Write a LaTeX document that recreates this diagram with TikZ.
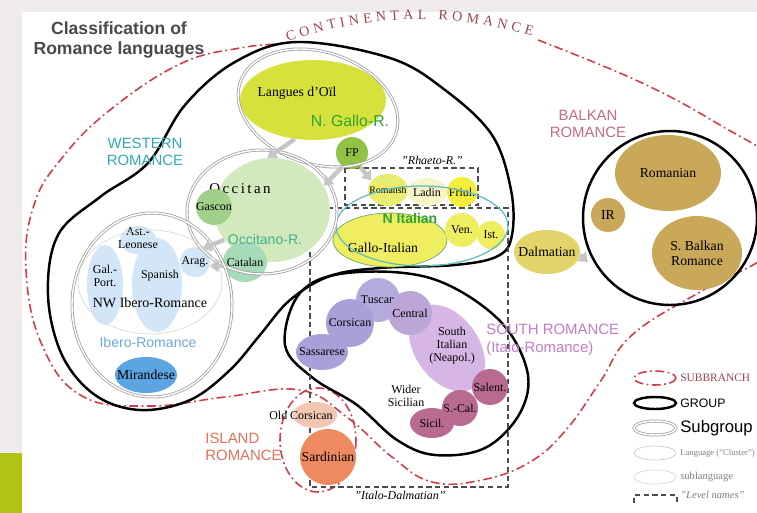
\documentclass[tikz,border=0pt]{standalone}
\usepackage{fontspec}
\setmainfont{Liberation Serif}
\setsansfont{Liberation Sans}
\usetikzlibrary{shapes.geometric,arrows.meta,decorations.text}

\definecolor{framegray}{HTML}{EEEBEA}
\definecolor{barc}{HTML}{B2C314}
\definecolor{redline}{HTML}{D23C4B}
\definecolor{contitxt}{HTML}{9A4450}
\definecolor{titlec}{HTML}{4A4A4A}
\definecolor{oilc}{HTML}{D6E13C}
\definecolor{fpc}{HTML}{92C246}
\definecolor{occc}{HTML}{D2E9BE}
\definecolor{gascc}{HTML}{A0D08A}
\definecolor{catc}{HTML}{A6DAB8}
\definecolor{iberoc}{HTML}{D2E6F8}
\definecolor{mirc}{HTML}{5CA4E2}
\definecolor{romshc}{HTML}{E9EC6E}
\definecolor{ladinc}{HTML}{F6F4C8}
\definecolor{friulc}{HTML}{F3EE3C}
\definecolor{galitc}{HTML}{EEEE60}
\definecolor{dalmc}{HTML}{E2D468}
\definecolor{balkc}{HTML}{C9A85A}
\definecolor{tuscc}{HTML}{B4AADC}
\definecolor{corsc}{HTML}{A8A0D8}
\definecolor{centc}{HTML}{BCA6D8}
\definecolor{sitalc}{HTML}{D6B6E4}
\definecolor{sicc}{HTML}{B86A90}
\definecolor{ocorsc}{HTML}{F2C6B2}
\definecolor{sardc}{HTML}{EE8A62}
\definecolor{westc}{HTML}{34AAB4}
\definecolor{balktxt}{HTML}{C06E80}
\definecolor{southtxt}{HTML}{C27CC8}
\definecolor{islandtxt}{HTML}{E2705A}
\definecolor{nitalc}{HTML}{2FA334}
\definecolor{occtxt}{HTML}{3EB08E}
\definecolor{iberotxt}{HTML}{6EA8E0}

\newcommand\langsize{\fontsize{6.8}{7.4}\selectfont}
\newcommand\bigsize{\fontsize{7.8}{8.4}\selectfont}

\tikzset{
  lang/.style={ellipse, inner sep=0pt},
  lbl/.style={font=\langsize, align=center, inner sep=0pt},
  biglbl/.style={font=\bigsize, align=center, inner sep=0pt},
  subbranch/.style={draw=redline, line width=0.9pt, dash pattern=on 5pt off 2pt on 1pt off 2pt},
  grp/.style={draw=black, line width=1.4pt},
  subgrp/.style={draw=gray!75, double=white, double distance=0.8pt, line width=0.45pt},
  levelbox/.style={draw=black!70, line width=0.6pt, dash pattern=on 3pt off 2pt},
  flow/.style={draw=gray!45, line width=2.5pt, -{Triangle[length=5pt,width=7pt]}},
  headline/.style={font=\sffamily\fontsize{8.5}{10}\selectfont, align=center, inner sep=0pt}
}

\begin{document}
\begin{tikzpicture}[x=0.02cm, y=-0.02cm]
  \useasboundingbox (0,0) rectangle (757,513);
  \clip (0,0) rectangle (757,513);

  % slide frame
  \fill[framegray] (0,0) rectangle (757,513);
  \fill[white] (22,12) rectangle (757,513);
  \fill[barc] (0,453) rectangle (22,513);

  % title
  \node[align=center, inner sep=0pt, text=titlec,
        font=\sffamily\bfseries\fontsize{10}{11.5}\selectfont] (title) at (119,40)
        {Classification of\\Romance languages};

  % subbranches
  \draw[subbranch] plot[smooth, tension=0.7] coordinates {(538,40) (640,82) (720,125) (775,162)
    (792,210) (772,252) (700,292) (632,335) (600,382) (566,430) (530,462) (482,480) (432,482)
    (392,457) (348,418) (300,390) (225,397) (150,406) (82,396) (42,345) (26,270) (34,205)
    (62,158) (110,110) (180,64) (240,48) (282,44)};
  \path[decorate, decoration={text along path, text align=fit to path,
        text={|\fontsize{8}{8}\selectfont\color{contitxt}|CONTINENTAL ROMANCE}}]
        (288,42) .. controls (365,14) and (450,12) .. (532,36);
  \draw[subbranch] (318,440) ellipse [x radius=38, y radius=52];

  % groups
  \draw[grp] plot[smooth cycle, tension=0.6] coordinates {(297,42) (390,58) (445,90) (492,135)
    (511,190) (512,235) (498,256) (455,265) (380,268) (330,276) (290,300) (260,335) (230,370)
    (190,400) (140,410) (95,395) (62,355) (48,295) (58,235) (100,197) (148,163) (185,105) (235,62)};
  \draw[grp] plot[smooth cycle, tension=0.6] coordinates {(300,293) (347,273) (430,278) (497,318)
    (527,370) (520,413) (485,448) (435,455) (397,440) (357,405) (313,378) (285,345)};
  \draw[grp] (670,218) ellipse [x radius=87, y radius=87];

  % level boxes
  \draw[levelbox] (345,168) rectangle (478,205);
  \draw[levelbox] (310,208) rectangle (508,487);
  \node[lbl, font=\itshape\langsize] (rhaeto) at (432,160) {"Rhaeto-R."};
  \node[lbl, font=\itshape\langsize] (italodalm) at (400,495) {"Italo-Dalmatian"};

  % N Gallo-Romance
  \node[lang, fill=oilc, minimum width=2.92cm, minimum height=1.6cm] (oil) at (313,100) {};
  \node[biglbl] (oil-t) at (297,93) {Langues d'Oïl};
  \node[lang, fill=fpc, minimum size=0.64cm, label={[lbl]center:FP}] (fp) at (352,153) {};

  % Occitano-Romance
  \node[lang, fill=occc, minimum width=2.32cm, minimum height=2.08cm] (occ) at (272,210) {};
  \node[lbl, font=\fontsize{8.5}{9}\selectfont] (occ-t) at (240,189) {O\,c\,c\,i\,t\,a\,n};
  \node[lang, fill=gascc, minimum size=0.72cm, label={[lbl]center:Gascon}] (gasc) at (214,207) {};
  \node[lang, fill=catc, minimum width=0.88cm, minimum height=0.8cm, label={[lbl]center:Catalan}] (cat) at (245,262) {};

  % Ibero-Romance
  \node[lang, fill=iberoc, minimum width=0.72cm, minimum height=1.6cm] (galport) at (105,285) {};
  \node[lbl] (galport-t) at (105,276) {Gal.-\\Port.};
  \node[lang, fill=iberoc, minimum width=1.0cm, minimum height=1.88cm] (spanish) at (157,285) {};
  \node[lbl] (spanish-t) at (160,276) {Spanish};
  \node[lang, fill=iberoc, minimum width=0.72cm, minimum height=0.56cm] (astleo) at (138,240) {};
  \node[lbl] (astleo-t) at (138,238) {Ast.-\\Leonese};
  \node[lang, fill=iberoc, minimum size=0.6cm, label={[lbl]center:Arag.}] (arag) at (195,262) {};
  \node[lbl, font=\fontsize{8}{8.5}\selectfont] (nwibero) at (150,303) {NW Ibero-Romance};
  \node[lang, fill=mirc, minimum width=1.24cm, minimum height=0.72cm, label={[biglbl]center:Mirandese}] (mir) at (146,375) {};

  % Rhaeto-Romance and N Italian
  \node[lang, fill=romshc, minimum width=0.8cm, minimum height=0.64cm, label={[lbl, font=\fontsize{5.6}{6}\selectfont]center:Romansh}] (romansh) at (388,190) {};
  \node[lang, fill=ladinc, minimum width=0.8cm, minimum height=0.56cm, label={[lbl]center:Ladin}] (ladin) at (427,192) {};
  \node[lang, fill=friulc, minimum size=0.6cm, label={[lbl]center:Friul.}] (friul) at (462,192) {};
  \node[lang, fill=galitc, draw=green!45!black!60, thin, minimum width=2.28cm, minimum height=1.08cm] (galit) at (390,240) {};
  \node[biglbl] (galit-t) at (383,248) {Gallo-Italian};
  \node[lang, fill=galitc, minimum size=0.68cm, label={[lbl]center:Ven.}] (ven) at (462,230) {};
  \node[lang, fill=galitc, minimum size=0.56cm, label={[lbl]center:Ist.}] (ist) at (491,235) {};
  \draw[draw=westc!80, line width=0.7pt] (422,226) ellipse [x radius=86, y radius=40];

  % subgroup outlines
  \draw[subgrp, rotate around={-18:(318,108)}] (318,108) ellipse [x radius=82, y radius=56];
  \draw[subgrp] (262,212) ellipse [x radius=75, y radius=62];
  \draw[subgrp] (152,305) ellipse [x radius=80, y radius=92];
  \draw[gray!30] (150,282) ellipse [x radius=72, y radius=52];

  % Dalmatian and Balkan Romance
  \node[lang, fill=dalmc, minimum width=1.32cm, minimum height=0.88cm, label={[biglbl]center:Dalmatian}] (dalm) at (547,252) {};
  \node[lang, fill=balkc, minimum width=2.12cm, minimum height=1.52cm, label={[biglbl]center:Romanian}] (rom) at (668,173) {};
  \node[lang, fill=balkc, minimum size=0.68cm, label={[biglbl]center:IR}] (ir) at (608,215) {};
  \node[lang, fill=balkc, minimum width=1.8cm, minimum height=1.48cm, label={[biglbl]center:S. Balkan\\Romance}] (sbalk) at (697,253) {};
  \coordinate (balkedge) at (588,262);

  % Italo-Romance
  \node[lang, fill=tuscc, minimum size=0.88cm, label={[lbl]center:Tuscan}] (tusc) at (378,300) {};
  \node[lang, fill=corsc, minimum size=0.96cm, label={[lbl]center:Corsican}] (cors) at (350,323) {};
  \node[lang, fill=corsc, minimum width=1.04cm, minimum height=0.72cm, label={[lbl]center:Sassarese}] (sass) at (322,352) {};
  \node[lang, fill=sitalc, minimum width=1.92cm, minimum height=1.28cm, rotate=-55] (sital) at (447,348) {};
  \node[lang, fill=centc, minimum size=0.88cm, label={[lbl]center:Central}] (cent) at (410,313) {};
  \node[lbl] (sital-t) at (452,346) {South\\Italian\\(Neapol.)};
  \node[lbl] (widersic) at (406,396) {Wider\\Sicilian};
  \node[lang, fill=sicc, minimum size=0.72cm, label={[lbl]center:Salent.}] (salent) at (490,387) {};
  \node[lang, fill=sicc, minimum size=0.72cm, label={[lbl]center:S.-Cal.}] (scal) at (460,408) {};
  \node[lang, fill=sicc, minimum width=0.88cm, minimum height=0.6cm, label={[lbl]center:Sicil.}] (sicil) at (432,423) {};

  % Island Romance
  \node[lang, fill=ocorsc, minimum width=0.88cm, minimum height=0.52cm] (ocors) at (315,415) {};
  \node[lbl] (ocors-t) at (301,415) {Old Corsican};
  \node[lang, fill=sardc, minimum size=1.12cm, label={[biglbl]center:Sardinian}] (sard) at (328,457) {};

  % influence arrows
  \draw[flow] (oil.245) -- (occ.95);
  \draw[flow] (fp.235) -- (occ.25);
  \draw[flow] (fp.300) -- (romansh.150);
  \draw[flow] (occ.212) -- (arag.60);
  \draw[flow] (cat.190) -- (arag.345);
  \draw[flow] (dalm.-5) -- (balkedge);

  % group labels
  \node[headline, text=westc] (westlbl) at (145,152) {WESTERN\\ROMANCE};
  \node[headline, text=balktxt] (balklbl) at (588,124) {BALKAN\\ROMANCE};
  \node[headline, text=southtxt, align=left, anchor=west] (southlbl) at (486,340) {SOUTH ROMANCE\\(Italo-Romance)};
  \node[headline, text=islandtxt, align=left, anchor=west] (islandlbl) at (205,447) {ISLAND\\ROMANCE};
  \node[headline, text=nitalc, font=\sffamily\fontsize{9}{10}\selectfont] (ngallo) at (350,121) {N. Gallo-R.};
  \node[headline, text=occtxt, font=\sffamily\fontsize{8}{9}\selectfont] (occitano) at (265,239) {Occitano-R.};
  \node[headline, text=iberotxt, font=\sffamily\fontsize{8}{9}\selectfont] (iberolbl) at (148,342) {Ibero-Romance};
  \node[headline, text=nitalc, font=\sffamily\bfseries\fontsize{8}{9}\selectfont] (nital) at (410,218) {N Italian};

  % legend
  \draw[subbranch] (655,378) ellipse [x radius=21, y radius=7];
  \node[anchor=west, inner sep=0pt, font=\fontsize{6.5}{7}\selectfont, text=contitxt] (leg-sb) at (680,378) {SUBBRANCH};
  \draw[grp] (655,403) ellipse [x radius=21, y radius=6];
  \node[anchor=west, inner sep=0pt, font=\sffamily\fontsize{7}{8}\selectfont] (leg-grp) at (680,403) {GROUP};
  \draw[subgrp] (655,428) ellipse [x radius=21, y radius=7];
  \node[anchor=west, inner sep=0pt, font=\sffamily\fontsize{9.5}{10}\selectfont] (leg-sub) at (680,428) {Subgroup};
  \draw[gray!40] (655,453) ellipse [x radius=21, y radius=7];
  \node[anchor=west, inner sep=0pt, font=\fontsize{4.9}{5.5}\selectfont, text=gray] (leg-lang) at (680,453) {Language ("Cluster")};
  \draw[gray!30] (655,477) ellipse [x radius=21, y radius=7];
  \node[anchor=west, inner sep=0pt, font=\fontsize{6}{6.5}\selectfont, text=gray] (leg-sl) at (680,477) {sublanguage};
  \draw[levelbox] (634,503) -- (634,495) -- (677,495) -- (677,503);
  \node[anchor=west, inner sep=0pt, font=\itshape\fontsize{6}{6.5}\selectfont, text=gray] (leg-lvl) at (680,495) {"Level names"};
\end{tikzpicture}
\end{document}
